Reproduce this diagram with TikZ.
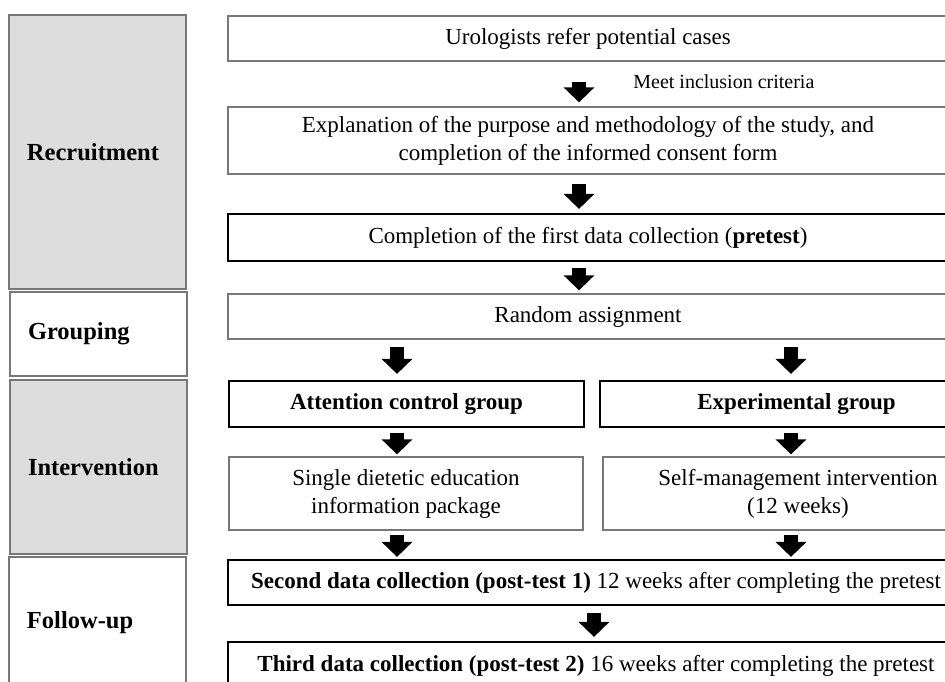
\documentclass[tikz,border=0pt]{standalone}
\usepackage{fontspec}
\setmainfont{Liberation Serif}
\usetikzlibrary{arrows.meta}
\definecolor{stagegray}{RGB}{221,221,221}
\definecolor{linegray}{RGB}{120,120,120}
\tikzset{
  box/.style={draw=linegray, line width=1.3pt, fill=white, inner sep=0pt, align=center, font=\fontsize{23}{28}\selectfont},
  boldbox/.style={box, draw=black, line width=2.2pt},
  stage/.style={draw=linegray, line width=1.3pt, inner xsep=18pt, inner ysep=0pt, text width=141pt, align=left, font=\fontsize{24.5}{29}\selectfont\bfseries},
  blockarrow/.style={line width=14pt, -{Triangle[length=15pt,width=30pt]}}
}
\begin{document}
\begin{tikzpicture}[x=1pt,y=-1pt]
\useasboundingbox (0,0) rectangle (945,681);
\clip (0,0) rectangle (945,681);
% stages
\node[stage, fill=stagegray, minimum height=274pt] (recruit) at (97.5,152) {Recruitment};
\node[stage, fill=white, minimum height=84pt] (group) at (98.5,334) {Grouping};
\node[stage, fill=stagegray, minimum height=174pt] (interv) at (98.5,467) {Intervention};
\node[stage, fill=white, minimum height=132pt] (follow) at (97.5,623) {Follow-up};
% steps
\node[box, minimum width=720pt, minimum height=45pt] (uro) at (588,38.5) {Urologists refer potential cases};
\node[box, minimum width=720pt, minimum height=67pt] (explain) at (588,140.5) {Explanation of the purpose and methodology of the study, and\\completion of the informed consent form};
\node[boldbox, minimum width=720pt, minimum height=47pt] (pretest) at (588,237.5) {Completion of the first data collection (\textbf{pretest})};
\node[box, minimum width=720pt, minimum height=45pt] (random) at (588,316.5) {Random assignment};
\node[boldbox, minimum width=355pt, minimum height=46pt] (attn) at (406.5,404) {\textbf{Attention control group}};
\node[boldbox, minimum width=393pt, minimum height=46pt] (expgrp) at (796.5,404) {\textbf{Experimental group}};
\node[box, minimum width=354pt, minimum height=73pt] (single) at (406,493.5) {Single dietetic education\\information package};
\node[box, minimum width=390pt, minimum height=73pt] (selfm) at (798,493.5) {Self-management intervention\\(12 weeks)};
\node[boldbox, minimum width=736pt, minimum height=45pt] (second) at (596,582.5) {\textbf{Second data collection (post-test 1)} 12 weeks after completing the pretest};
\node[boldbox, minimum width=736pt, minimum height=48pt] (third) at (596,666) {\textbf{Third data collection (post-test 2)} 16 weeks after completing the pretest};
\coordinate (mcol) at (579,0);
\coordinate (lcol) at (397,0);
\coordinate (rcol) at (791,0);
% arrows
\draw[blockarrow, shorten <=20pt, shorten >=4pt] (uro.south -| mcol) -- (explain.north -| mcol)
  node[pos=0.45, right=44pt, font=\fontsize{20}{24}\selectfont] (incl) {Meet inclusion criteria};
\draw[blockarrow, shorten <=9pt, shorten >=4pt] (explain.south -| mcol) -- (pretest.north -| mcol);
\draw[blockarrow, shorten <=6pt, shorten >=3pt] (pretest.south -| mcol) -- (random.north -| mcol);
\draw[blockarrow, shorten <=7pt, shorten >=6pt] (random.south -| lcol) -- (attn.north -| lcol);
\draw[blockarrow, shorten <=7pt, shorten >=6pt] (random.south -| rcol) -- (expgrp.north -| rcol);
\draw[blockarrow, shorten <=5pt, shorten >=2pt] (attn.south -| lcol) -- (single.north -| lcol);
\draw[blockarrow, shorten <=5pt, shorten >=2pt] (expgrp.south -| rcol) -- (selfm.north -| rcol);
\draw[blockarrow, shorten <=4pt, shorten >=2pt] (single.south -| lcol) -- (second.north -| lcol);
\draw[blockarrow, shorten <=4pt, shorten >=2pt] (selfm.south -| rcol) -- (second.north -| rcol);
\draw[blockarrow, shorten <=7pt, shorten >=4pt] ([xshift=-2pt]second.south) -- ([xshift=-2pt]third.north);
\end{tikzpicture}
\end{document}
